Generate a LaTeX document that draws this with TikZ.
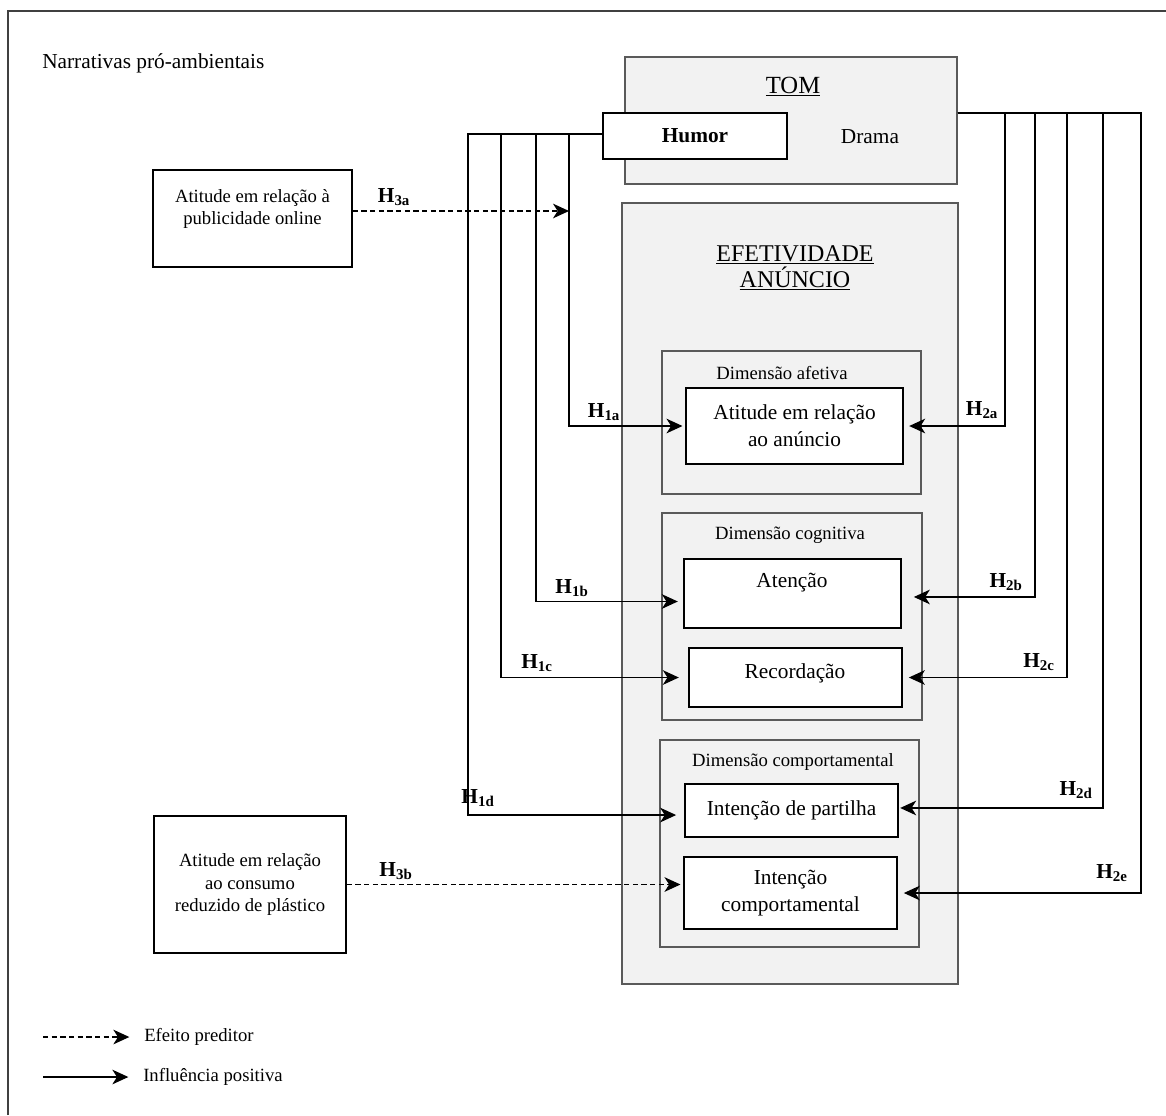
\documentclass[tikz,border=0pt]{standalone}
\usepackage{fontspec}
\setmainfont{Liberation Serif}
\usetikzlibrary{positioning}
\usetikzlibrary{fit}
\usetikzlibrary{arrows.meta}
\definecolor{boxgray}{HTML}{f2f2f2}
\definecolor{edgegray}{HTML}{5a5a5a}

\begin{document}
\begin{tikzpicture}[x=0.75pt,y=-0.75pt,
		gbox/.style={draw=edgegray, fill=boxgray, line width=0.8pt, inner sep=0pt},
		wbox/.style={draw=black, fill=white, line width=1.3pt, inner sep=0pt},
		sbox/.style={draw=black, line width=1.2pt, inner sep=0pt},
		txt/.style={inner sep=0pt, align=center, font=\fontsize{16}{20}\selectfont},
		stxt/.style={inner sep=0pt, align=center, font=\fontsize{14}{17}\selectfont},
		dtit/.style={inner sep=0pt, font=\fontsize{14}{17}\selectfont},
		hyp/.style={inner sep=0pt, font=\fontsize{16}{18}\selectfont\bfseries},
		lgd/.style={inner sep=0pt, anchor=west, font=\fontsize{14}{17}\selectfont},
		posarrow/.style={draw=black, line width=0.9pt, -{Stealth[length=12pt,width=11pt,inset=3.5pt]}, shorten >=2pt},
		predarrow/.style={posarrow, dash pattern=on 4pt off 2.5pt}]
			\useasboundingbox (0,0) rectangle (1166,1115);
			\draw[black!75, line width=0.8pt] (8,1115) |- (1166,11);
			\node[anchor=base west, inner sep=0pt, font=\fontsize{16}{19}\selectfont] (narr) at (42,68) {Narrativas pró-ambientais};
			\node[sbox, fit={(153,170) (352,267)}] (pub) {};
			\node[stxt, font=\fontsize{14}{16.5}\selectfont] (pubtxt) at (252.5,209) {Atitude em relação à\\publicidade online};
			\node[sbox, fit={(154,816) (346,953)}] (plast) {};
			\node[stxt] (plasttxt) at (plast) {Atitude em relação\\ao consumo\\reduzido de plástico};
			\node[gbox, fit={(625,57) (957,184)}] (tom) {};
			\node[anchor=base, inner sep=0pt, font=\fontsize{18.5}{20}\selectfont] (tomtit) at (793,93) {\underline{TOM}};
			\node[wbox, fit={(603,113) (787,159)}] (humor) {};
			\node[txt, font=\fontsize{16}{19}\selectfont\bfseries] (humortxt) at (humor) {Humor};
			\node[txt] (drama) at (870,137) {Drama};
			\node[gbox, fit={(622,203) (958,984)}] (efet) {};
			\node[txt, font=\fontsize{18}{19.5}\selectfont] (eftit) at (795,268) {\underline{EFETIVIDADE}\\\underline{ANÚNCIO}};
			\node[gbox, fit={(662,351) (921,494)}] (afet) {};
			\node[dtit] (afettit) at (782,373) {Dimensão afetiva};
			\node[wbox, fit={(686,388) (903,464)}] (att) {};
			\node[txt] (atttxt) at (att) {Atitude em relação\\ao anúncio};
			\node[gbox, fit={(662,513) (922,720)}] (cogn) {};
			\node[dtit] (cogntit) at (790,535) {Dimensão cognitiva};
			\node[wbox, fit={(684,559) (901,628)}] (aten) {};
			\node[txt] (atentxt) at (792,583) {Atenção};
			\node[wbox, fit={(689,648) (902,707)}] (recd) {};
			\node[txt] (recdtxt) at (795,673) {Recordação};
			\node[gbox, fit={(660,740) (919,947)}] (comp) {};
			\node[dtit] (comptit) at (793,762) {Dimensão comportamental};
			\node[wbox, fit={(685,784) (898,837)}] (part) {};
			\node[txt] (parttxt) at (part) {Intenção de partilha};
			\node[wbox, fit={(684,857) (897,929)}] (intc) {};
			\node[txt] (intctxt) at (intc) {Intenção\\comportamental};
			\coordinate (h1a) at (569,134);
			\coordinate (h1b) at (536,134);
			\coordinate (h1c) at (501,134);
			\coordinate (h1d) at (468,134);
			\coordinate (h2a) at (1005,113);
			\coordinate (h2b) at (1035,113);
			\coordinate (h2c) at (1067,113);
			\coordinate (h2d) at (1103,113);
			\coordinate (h2e) at (1141,113);
			\coordinate (h3a) at (569,211);
			\draw[posarrow] (humor.west |- h1a) -- (h1a) |- (att);
			\draw[posarrow, shorten >=4pt] (humor.west |- h1b) -- (h1b) |- ([yshift=-6pt]aten.west);
			\draw[posarrow, shorten >=7pt] (humor.west |- h1c) -- (h1c) |- (recd);
			\draw[posarrow, shorten >=6pt] (humor.west |- h1d) -- (h1d) |- ([yshift=-3.4pt]part.west);
			\draw[posarrow, shorten >=4pt] (tom.east |- h2a) -- (h2a) |- (att);
			\draw[posarrow, shorten >=9pt] (tom.east |- h2b) -- (h2b) |- ([yshift=-2.6pt]aten.east);
			\draw[posarrow, shorten >=4.5pt] (tom.east |- h2c) -- (h2c) |- (recd);
			\draw[posarrow, shorten >=1pt] (tom.east |- h2d) -- (h2d) |- ([yshift=1.9pt]part.east);
			\draw[posarrow, shorten >=4.5pt] (tom.east |- h2e) -- (h2e) |- (intc);
			\draw[predarrow, shorten >=0pt] (pub.east |- h3a) -- (h3a);
			\draw[predarrow] (plast.east) -- (plast.east -| intc.west);
			\node[hyp] (l3a) at (394,197) {H\textsubscript{3a}};
			\node[hyp] (l3b) at (396,871) {H\textsubscript{3b}};
			\node[hyp] (l1a) at (604,412) {H\textsubscript{1a}};
			\node[hyp] (l1b) at (572,588) {H\textsubscript{1b}};
			\node[hyp] (l1c) at (537,663) {H\textsubscript{1c}};
			\node[hyp] (l1d) at (478,798) {H\textsubscript{1d}};
			\node[hyp] (l2a) at (982,410) {H\textsubscript{2a}};
			\node[hyp] (l2b) at (1006,582) {H\textsubscript{2b}};
			\node[hyp] (l2c) at (1039,662) {H\textsubscript{2c}};
			\node[hyp] (l2d) at (1076,790) {H\textsubscript{2d}};
			\node[hyp] (l2e) at (1112,873) {H\textsubscript{2e}};
			\node[lgd] (lpred) at (144,1037) {Efeito preditor};
			\node[lgd] (lposi) at (143,1077) {Influência positiva};
			\draw[predarrow, shorten >=11pt] ([xshift=-75.75pt]lpred.west) -- (lpred.west);
			\draw[posarrow, shorten >=11pt] ([xshift=-75pt]lposi.west) -- (lposi.west);
		\end{tikzpicture}
\end{document}
